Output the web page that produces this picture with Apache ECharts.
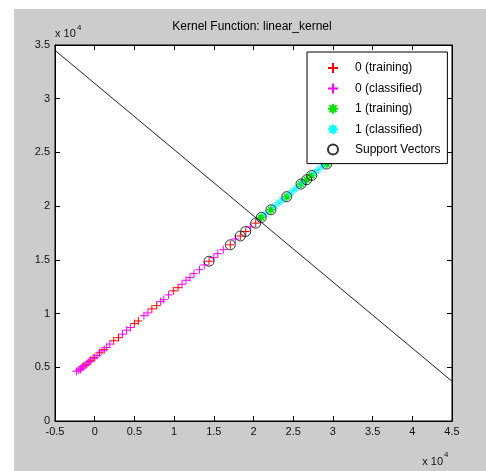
<!DOCTYPE html>
<html>
<head>
<meta charset="utf-8">
<script src="https://cdn.jsdelivr.net/npm/echarts@6/dist/echarts.min.js"></script>
<style>
  html, body { margin: 0; padding: 0; background: #fff; }
  #chart { width: 486px; height: 471px; }
</style>
</head>
<body>
<div id="chart"></div>
<script>
  // values in units of 10^4
  const class0Training = [
    [-0.15, 0.505], [-0.10, 0.528], [-0.05, 0.566], [0.00, 0.590], [0.06, 0.635],
    [0.12, 0.664], [0.24, 0.747], [0.30, 0.776], [0.50, 0.908], [0.55, 0.931],
    [0.72, 1.044], [0.78, 1.074], [0.99, 1.212], [1.05, 1.241],
    [1.44, 1.487], [1.708, 1.640], [1.834, 1.722], [1.902, 1.764], [2.028, 1.842],
  ];
  const class0Classified = [
    [-0.23, 0.462], [-0.20, 0.474], [-0.18, 0.480], [-0.17, 0.492], [-0.14, 0.510],
    [-0.12, 0.517], [-0.08, 0.547], [-0.06, 0.554], [-0.02, 0.585], [0.03, 0.610],
    [0.09, 0.653], [0.15, 0.684], [0.19, 0.716], [0.35, 0.808], [0.40, 0.845],
    [0.45, 0.870], [0.62, 0.981], [0.67, 1.006], [0.83, 1.112], [0.87, 1.130],
    [0.93, 1.174], [1.10, 1.273], [1.15, 1.310], [1.20, 1.335], [1.25, 1.372],
    [1.32, 1.409], [1.38, 1.453], [1.50, 1.521], [1.55, 1.558], [1.62, 1.595],
    [1.77, 1.694], [1.96, 1.806],
  ];
  const class1Training = [
    [2.098, 1.895], [2.22, 1.966], [2.418, 2.088], [2.598, 2.206],
    [2.67, 2.246], [2.733, 2.286], [2.922, 2.392],
  ];
  const class1Classified = [
    [2.15, 1.927], [2.27, 2.001], [2.32, 2.032], [2.36, 2.057], [2.46, 2.119],
    [2.50, 2.144], [2.54, 2.169], [2.62, 2.218], [2.77, 2.311], [2.82, 2.342],
    [2.87, 2.373], [2.96, 2.429],
  ];
  const supportVectors = [
    [1.44, 1.487], [1.708, 1.640], [1.834, 1.722], [1.902, 1.764], [2.028, 1.842],
    [2.098, 1.895], [2.22, 1.966], [2.418, 2.088], [2.598, 2.206],
    [2.67, 2.246], [2.733, 2.286], [2.922, 2.392],
  ];
  const boundary = [[-0.5, 3.45], [4.5, 0.37]];
  const legendNames = ["0 (training)", "0 (classified)", "1 (training)", "1 (classified)", "Support Vectors"];

  const font = "Liberation Sans, Arial, sans-serif";
  const plusPath = "path://M5,0 L5,10 M0,5 L10,5";
  const starPath = "path://M5,0 L5,10 M0,5 L10,5 M1.5,1.5 L8.5,8.5 M1.5,8.5 L8.5,1.5";

  function fmtTick(value) {
    return String(Math.round(value * 10) / 10);
  }

  function markerSeries(name, data, symbol, color, width, size) {
    return {
      name,
      type: "scatter",
      data,
      symbol,
      symbolSize: size,
      itemStyle: { color, borderColor: color, borderWidth: width, opacity: 1 },
      emphasis: { disabled: true },
      z: 3,
    };
  }

  const axisCommon = {
    type: "value",
    interval: 0.5,
    splitLine: { show: false },
    axisLine: { show: true, onZero: false, lineStyle: { color: "#000", width: 1 } },
    axisTick: { show: true, inside: true, length: 5, lineStyle: { color: "#000" } },
  };
  const labelStyle = { fontFamily: font, fontSize: 11, color: "#111" };

  const chart = echarts.init(document.getElementById("chart"));
  chart.setOption({
    backgroundColor: "#cccccc",
    animation: false,
    grid: {
      left: 55, right: 34, top: 45, bottom: 50,
      show: true, backgroundColor: "#fff", borderColor: "#000", borderWidth: 1,
    },
    xAxis: [
      { ...axisCommon, min: -0.5, max: 4.5, position: "bottom",
        axisLabel: { ...labelStyle, margin: 5, formatter: fmtTick } },
      { ...axisCommon, min: -0.5, max: 4.5, position: "top", axisLabel: { show: false } },
    ],
    yAxis: [
      { ...axisCommon, min: 0, max: 3.5, position: "left",
        axisLabel: { ...labelStyle, margin: 5, formatter: fmtTick } },
      { ...axisCommon, min: 0, max: 3.5, position: "right", axisLabel: { show: false } },
    ],
    legend: {
      data: legendNames,
      orient: "vertical",
      left: 307,
      top: 52,
      padding: [10, 7, 8, 20],
      itemWidth: 10,
      itemHeight: 10,
      itemGap: 8.4,
      backgroundColor: "#fff",
      borderColor: "#000",
      borderWidth: 1,
      borderRadius: 0,
      selectedMode: false,
      textStyle: { fontFamily: font, fontSize: 12, color: "#000", padding: [0, 0, 0, 12] },
      z: 10,
    },
    graphic: [
      { type: "rect", shape: { x: 0, y: 0, width: 14, height: 471 }, style: { fill: "#fff" }, silent: true },
      { type: "rect", shape: { x: 0, y: 0, width: 486, height: 9 }, style: { fill: "#fff" }, silent: true },
      { type: "text", x: 252, y: 27,
        style: { text: "Kernel Function: linear_kernel", font: `12px ${font}`, fill: "#000", align: "center", verticalAlign: "middle" } },
      { type: "text", x: 55, y: 34,
        style: { text: "x 10", font: `11px ${font}`, fill: "#111", align: "left", verticalAlign: "middle" } },
      { type: "text", x: 77, y: 28,
        style: { text: "4", font: `8px ${font}`, fill: "#111", align: "left", verticalAlign: "middle" } },
      { type: "text", x: 443, y: 462,
        style: { text: "x 10", font: `11px ${font}`, fill: "#111", align: "right", verticalAlign: "middle" } },
      { type: "text", x: 444, y: 455,
        style: { text: "4", font: `8px ${font}`, fill: "#111", align: "left", verticalAlign: "middle" } },
    ],
    series: [
      markerSeries(legendNames[0], class0Training, plusPath, "#ff0000", 1, 8),
      markerSeries(legendNames[1], class0Classified, plusPath, "#ff00ff", 1, 8),
      markerSeries(legendNames[2], class1Training, starPath, "#00e000", 1.6, 8),
      markerSeries(legendNames[3], class1Classified, starPath, "#00ffff", 1, 8),
      {
        name: legendNames[4],
        type: "scatter",
        data: supportVectors,
        symbol: "circle",
        symbolSize: 10,
        itemStyle: { color: "rgba(0,0,0,0)", borderColor: "#000", borderWidth: 1 },
        emphasis: { disabled: true },
        z: 4,
      },
      {
        name: "boundary",
        type: "line",
        data: boundary,
        showSymbol: false,
        lineStyle: { color: "#222", width: 1 },
        emphasis: { disabled: true },
        z: 5,
      },
    ],
  });
</script>
</body>
</html>
